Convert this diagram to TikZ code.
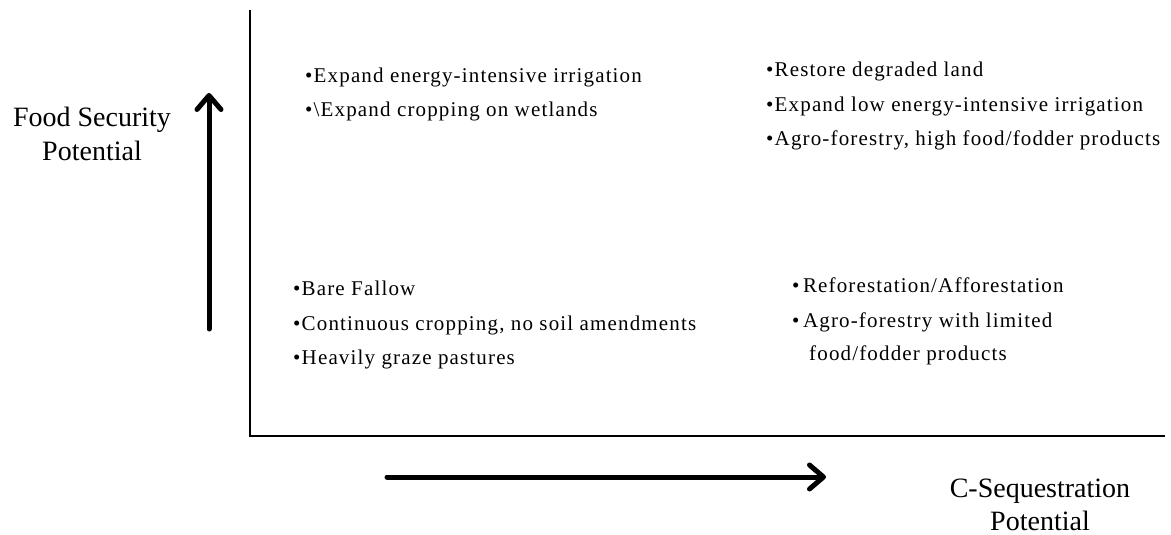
\documentclass[tikz,border=0pt]{standalone}
\usepackage{fontspec}
\setmainfont{Liberation Serif}
\newfontfamily\itemfont[LetterSpace=5.5]{Liberation Serif}
\usetikzlibrary{arrows.meta}
\begin{document}
\begin{tikzpicture}[x=1pt,y=-1pt,
  axis/.style={line width=1.5pt, draw=black},
  bigarrow/.style={line width=5pt, line cap=round,
    -{Straight Barb[length=14pt,width=24pt,line cap=round,line join=round]}},
  item/.style={anchor=base west, inner sep=0pt, font=\itemfont\fontsize{21}{24}\selectfont},
  axlabel/.style={anchor=base, inner sep=0pt, text depth=0pt, font=\fontsize{28}{34}\selectfont}]
\useasboundingbox (0,0) rectangle (1171,535);

% axes
\coordinate (ytop) at (250,10);
\coordinate (origin) at (250,436);
\coordinate (xend) at (1165,436);
\draw[axis] (ytop) -- (origin) -- (xend);

% direction arrows
\coordinate (ua0) at (209,329);
\coordinate (ua1) at (209,93);
\draw[bigarrow] (ua0) -- (ua1);
\coordinate (ra0) at (387,477);
\coordinate (ra1) at (826,477);
\draw[bigarrow] (ra0) -- (ra1);

% axis labels
\node[axlabel] (fs1) at (92,126) {Food Security};
\node[axlabel] (fs2) at (92,160) {Potential};
\node[axlabel] (cs1) at (1040,497) {C-Sequestration};
\node[axlabel] (cs2) at (1040,530) {Potential};

% top left
\node[item] (tl1) at (305,83) {•Expand energy-intensive irrigation};
\node[item] (tl2) at (305,117) {•\textbackslash Expand cropping on wetlands};

% top right
\node[item] (tr1) at (766,77) {•Restore degraded land};
\node[item] (tr2) at (766,111) {•Expand low energy-intensive irrigation};
\node[item] (tr3) at (766,145) {•Agro-forestry, high food/fodder products};

% bottom left
\node[item] (bl1) at (293,295) {•Bare Fallow};
\node[item] (bl2) at (293,330) {•Continuous cropping, no soil amendments};
\node[item] (bl3) at (293,364) {•Heavily graze pastures};

% bottom right
\node[item] (br1) at (792,292) {•\,Reforestation/Afforestation};
\node[item] (br2) at (792,327) {•\,Agro-forestry with limited};
\node[item] (br3) at (809,360) {food/fodder products};
\end{tikzpicture}
\end{document}
